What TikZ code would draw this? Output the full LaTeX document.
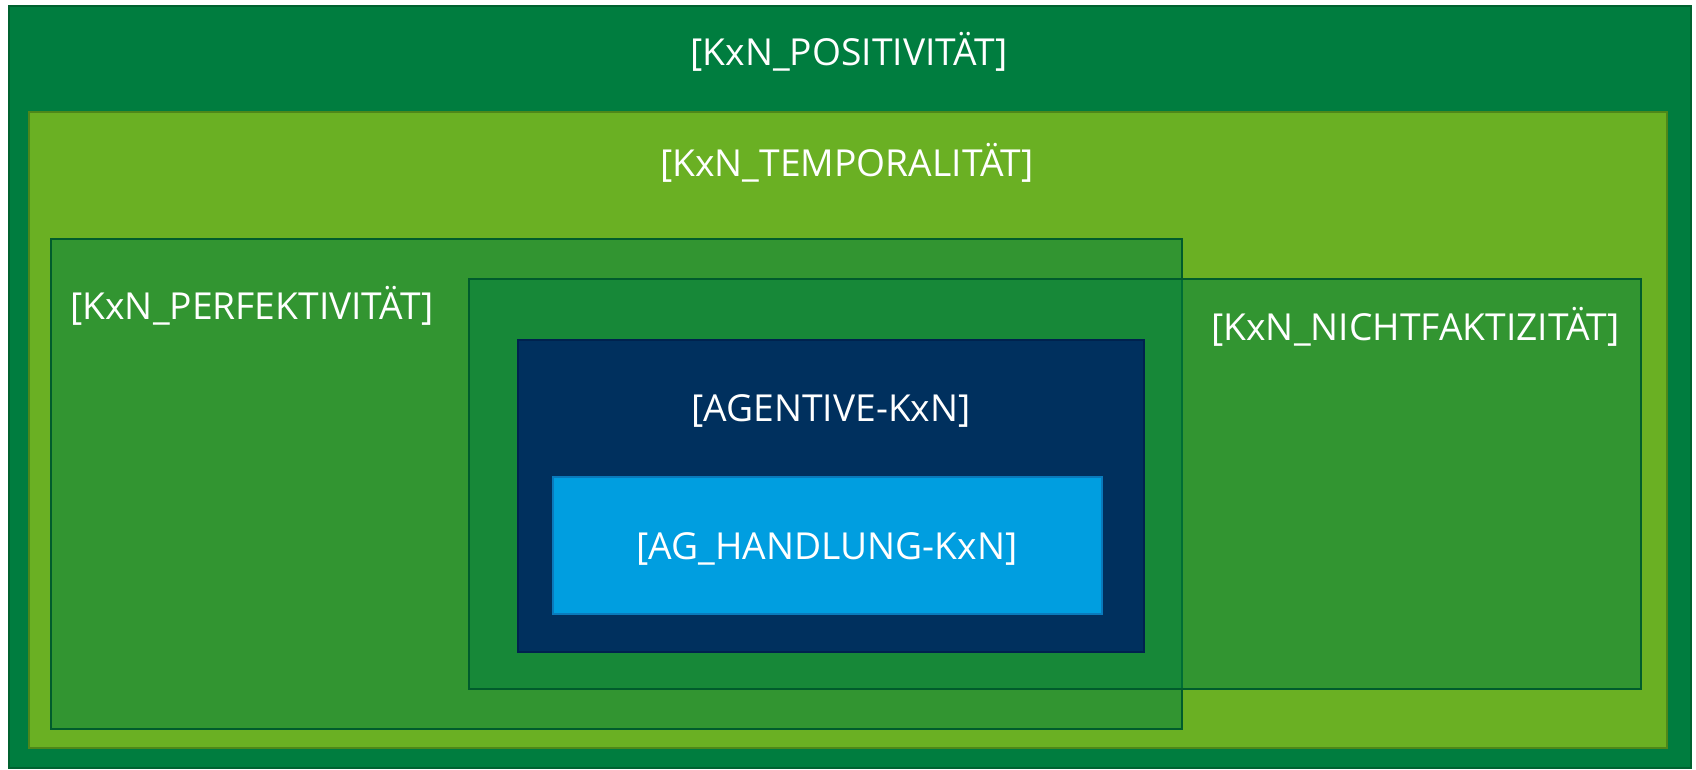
\documentclass[tikz,border=0pt]{standalone}
\usepackage{fontspec}
\setmainfont{Open Sans}
\usepackage{tikz}
\usetikzlibrary{positioning}
\definecolor{dunkelgruen}{RGB}{0,125,63}
\definecolor{dunkelrand}{RGB}{0,98,48}
\definecolor{hellgruen}{RGB}{106,176,35}
\definecolor{hellrand}{RGB}{78,135,26}
\definecolor{mittelrand}{RGB}{0,92,44}
\definecolor{nachtblau}{RGB}{0,48,94}
\definecolor{nachtrand}{RGB}{0,34,78}
\definecolor{himmelblau}{RGB}{0,158,224}
\definecolor{himmelrand}{RGB}{10,122,188}

\begin{document}
\begin{tikzpicture}[x=0.5pt,y=-0.5pt]
	
	\tikzset{kasten/.style={line width=1.4pt}}
	\tikzset{mittel/.style={kasten,draw=mittelrand,fill=dunkelgruen,fill opacity=0.52}}
	\tikzset{beschriftung/.style={text=white,font=\fontsize{18.6}{20}\selectfont,inner sep=0pt}}
	
	\useasboundingbox (0,0) rectangle (1696,770);
	
	% Aussen
	\draw[kasten,draw=dunkelrand,fill=dunkelgruen] (9,6) rectangle (1691,768);
	\node[beschriftung] (positiv) at (849,52) {[KxN\_POSITIVITÄT]};
	
	% Temporalitaet
	\draw[kasten,draw=hellrand,fill=hellgruen] (29,112) rectangle (1667,748);
	\node[beschriftung] (temporal) at (847,163) {[KxN\_TEMPORALITÄT]};
	
	% zwei ueberlappende Kaesten
	\draw[mittel] (51,239) rectangle (1182,729);
	\draw[mittel] (469,279) rectangle (1641,689);
	\node[beschriftung,anchor=west] (perfekt) at (70,306) {[KxN\_PERFEKTIVITÄT]};
	\node[beschriftung,anchor=west] (nichtfakt) at (1211,327) {[KxN\_NICHTFAKTIZITÄT]};
	
	% Agentive
	\draw[kasten,draw=nachtrand,fill=nachtblau] (518,340) rectangle (1144,652);
	\node[beschriftung] (agentive) at (831,411) {[AGENTIVE-KxN]};
	
	% Handlung
	\draw[kasten,draw=himmelrand,fill=himmelblau] (553,477) rectangle (1102,614);
	\node[beschriftung] (handlung) at (827,549) {[AG\_HANDLUNG-KxN]};
	
\end{tikzpicture}
\end{document}
